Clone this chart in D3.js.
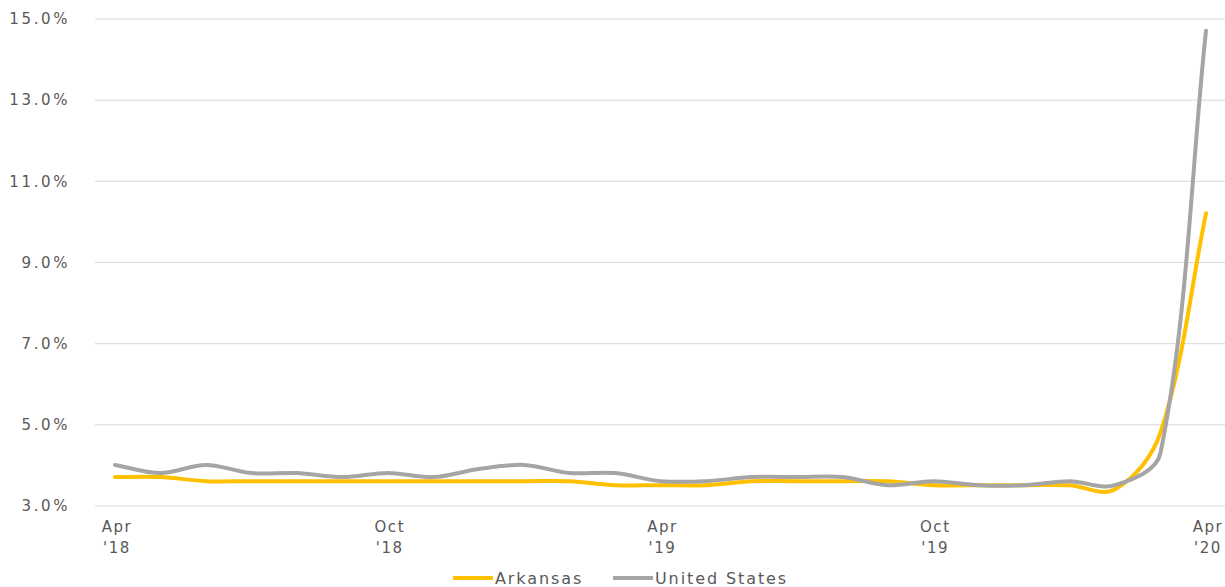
<!DOCTYPE html>
<html>
<head>
<meta charset="utf-8">
<script src="https://cdn.jsdelivr.net/npm/d3@7"></script>
<style>
  body { margin: 0; background: #fff; }
  text { font-family: "DejaVu Sans", sans-serif; fill: #595959; }
</style>
</head>
<body>
<svg id="chart" width="1225" height="587"></svg>
<script>
// monthly, Apr 2018 .. Apr 2020
var months = d3.range(25);
var arkansas = [3.7, 3.7, 3.6, 3.6, 3.6, 3.6, 3.6, 3.6, 3.6, 3.6, 3.6, 3.5, 3.5,
                3.5, 3.6, 3.6, 3.6, 3.6, 3.5, 3.5, 3.5, 3.5, 3.4, 4.8, 10.2];
var unitedStates = [4.0, 3.8, 4.0, 3.8, 3.8, 3.7, 3.8, 3.7, 3.9, 4.0, 3.8, 3.8, 3.6,
                    3.6, 3.7, 3.7, 3.7, 3.5, 3.6, 3.5, 3.5, 3.6, 3.5, 4.3, 14.7];
var xTicks = [0, 6, 12, 18, 24];
var xTickLabels = [["Apr", "'18"], ["Oct", "'18"], ["Apr", "'19"], ["Oct", "'19"], ["Apr", "'20"]];
var yTicks = [3, 5, 7, 9, 11, 13, 15];

var series = [
  { name: "Arkansas", values: arkansas, color: "#FFC000" },
  { name: "United States", values: unitedStates, color: "#A5A5A5" }
];

var svg = d3.select("#chart");

var x = d3.scaleLinear().domain([0, 24]).range([115, 1206]);
var y = d3.scaleLinear().domain([3, 15]).range([505.5, 18.5]);

// spreadsheet-style smoothing: tangent along neighbours, handles a third of each segment
function smoothCurve(context) {
  var pts;
  return {
    areaStart: function() {}, areaEnd: function() {},
    lineStart: function() { pts = []; },
    point: function(px, py) { pts.push([+px, +py]); },
    lineEnd: function() {
      var n = pts.length;
      if (!n) return;
      var tan = pts.map(function(p, i) {
        var a = pts[Math.max(0, i - 1)], b = pts[Math.min(n - 1, i + 1)];
        var dx = b[0] - a[0], dy = b[1] - a[1], l = Math.hypot(dx, dy) || 1;
        return [dx / l, dy / l];
      });
      context.moveTo(pts[0][0], pts[0][1]);
      for (var i = 0; i < n - 1; i++) {
        var p = pts[i], q = pts[i + 1];
        var L = Math.hypot(q[0] - p[0], q[1] - p[1]) / 3;
        context.bezierCurveTo(p[0] + tan[i][0] * L, p[1] + tan[i][1] * L,
                              q[0] - tan[i + 1][0] * L, q[1] - tan[i + 1][1] * L,
                              q[0], q[1]);
      }
    }
  };
}

// gridlines + y labels
var yAxis = svg.append("g")
    .attr("transform", "translate(95,0)")
    .call(d3.axisLeft(y).tickValues(yTicks).tickSize(-1130).tickPadding(25)
        .tickFormat(function(d) { return d3.format(".1f")(d) + "%"; }));
yAxis.select(".domain").remove();
yAxis.selectAll(".tick line").attr("stroke", "#d9d9d9").attr("stroke-width", 1);
yAxis.selectAll(".tick text")
    .style("font-size", "15px")
    .style("letter-spacing", "2.6px")
    .attr("fill", "#595959")
    .attr("dy", "0.35em");

// x labels
var xl = svg.append("g").selectAll("g")
    .data(xTicks)
    .enter().append("g");
xl.append("text")
    .attr("x", function(d) { return x(d) + 2; })
    .attr("y", 532)
    .attr("text-anchor", "middle")
    .style("font-size", "15px")
    .style("letter-spacing", "1.6px")
    .text(function(d, i) { return xTickLabels[i][0]; });
xl.append("text")
    .attr("x", function(d) { return x(d) + 2; })
    .attr("y", 553)
    .attr("text-anchor", "middle")
    .style("font-size", "15px")
    .style("letter-spacing", "1.6px")
    .text(function(d, i) { return xTickLabels[i][1]; });

var line = d3.line()
    .x(function(d, i) { return x(months[i]); })
    .y(function(d) { return y(d); })
    .curve(smoothCurve);

// draw Arkansas first, US on top
svg.selectAll("path.series")
    .data(series)
    .enter().append("path")
    .attr("class", "series")
    .attr("d", function(d) { return line(d.values); })
    .attr("fill", "none")
    .attr("stroke", function(d) { return d.color; })
    .attr("stroke-width", 4)
    .attr("stroke-linecap", "round")
    .attr("stroke-linejoin", "round");

// legend
var legendX = [453, 613];
var lg = svg.append("g").selectAll("g")
    .data(series)
    .enter().append("g")
    .attr("transform", function(d, i) { return "translate(" + legendX[i] + ",578)"; });
lg.append("line")
    .attr("x1", 0).attr("x2", 40)
    .attr("stroke", function(d) { return d.color; })
    .attr("stroke-width", 4);
lg.append("text")
    .attr("x", 42)
    .attr("dy", "0.35em")
    .style("font-size", "16px")
    .style("letter-spacing", "1.9px")
    .text(function(d) { return d.name; });
</script>
</body>
</html>
